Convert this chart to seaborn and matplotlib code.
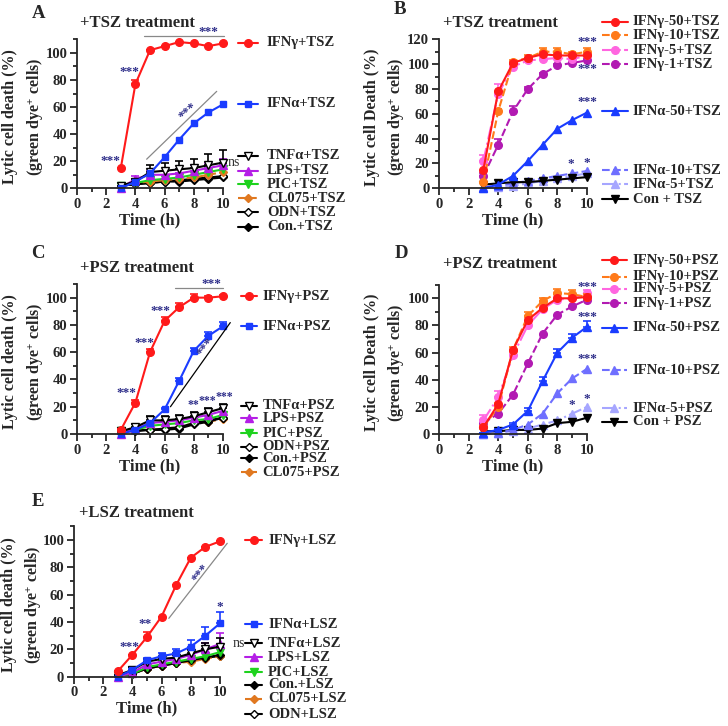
import numpy as np
import matplotlib
matplotlib.use('Agg')
import matplotlib.pyplot as plt
import matplotlib.transforms as mtransforms
from matplotlib.ticker import MultipleLocator
import seaborn as sns

# --- dados ---
hours = [3, 4, 5, 6, 7, 8, 9, 10]

# A: +TSZ
a_ifng = [15, 77, 102, 105, 108, 107, 105, 107]
a_ifna = [0, 5, 11, 23, 36, 48, 56, 62]
a_tnfa = [2, 5, 12, 13, 14, 15, 17, 19]
a_lps = [0, 7, 10, 10, 11, 13, 15, 17]
a_pic = [2, 4, 6, 7, 8, 10, 12, 14]
a_cl075 = [2, 4, 5, 6, 7, 8, 10, 12]
a_odn = [2, 3, 4, 5, 6, 7, 8, 9]
a_con = [2, 3, 4, 5, 5, 6, 7, 8]
a_ifng_err = [0, 3, 0, 0, 0, 0, 0, 0]
a_tnfa_err = [0, 2, 5, 6, 6, 7, 8, 9]
a_lps_err = [0, 2, 3, 3, 3, 4, 4, 5]

# B: +TSZ, doses
b_g50 = [15, 78, 101, 105, 108, 107, 107, 107]
b_g10 = [5, 62, 102, 105, 110, 110, 108, 110]
b_g5 = [22, 76, 98, 103, 104, 105, 104, 107]
b_g1 = [10, 35, 62, 80, 92, 99, 101, 103]
b_a50 = [0, 3, 10, 22, 35, 48, 55, 61]
b_a10 = [1, 2, 4, 6, 8, 10, 12, 14]
b_a5 = [0, 1, 2, 4, 6, 8, 10, 12]
b_con = [3, 4, 5, 5, 6, 7, 8, 9]
b_g10_err = [0, 2, 1, 2, 3, 3, 2, 3]
b_g5_err = [5, 8, 2, 2, 2, 2, 2, 2]
b_g1_err = [2, 5, 4, 2, 1, 1, 1, 1]

# C: +PSZ
c_ifng = [3, 23, 60, 83, 93, 100, 100, 101]
c_ifna = [0, 3, 8, 18, 39, 61, 72, 79]
c_tnfa = [2, 5, 10, 10, 11, 13, 16, 19]
c_lps = [0, 4, 8, 9, 10, 12, 14, 17]
c_pic = [2, 3, 6, 7, 8, 10, 11, 14]
c_odn = [2, 3, 3, 4, 5, 8, 10, 12]
c_con = [2, 2, 3, 3, 4, 7, 9, 12]
c_cl075 = [2, 3, 3, 4, 5, 8, 9, 11]
c_ifng_err = [1, 2, 2, 3, 3, 3, 1, 1]
c_ifna_err = [0, 1, 1, 1, 2, 2, 3, 3]
c_tnfa_err = [0, 2, 3, 3, 3, 3, 3, 3]

# D: +PSZ, doses
d_g50 = [5, 22, 62, 84, 93, 100, 100, 101]
d_g10 = [5, 20, 62, 87, 98, 104, 103, 101]
d_g5 = [10, 27, 58, 80, 92, 99, 100, 104]
d_g1 = [8, 15, 29, 52, 74, 88, 94, 99]
d_a50 = [1, 3, 7, 17, 39, 60, 71, 79]
d_a10 = [0, 1, 3, 7, 15, 30, 41, 48]
d_a5 = [0, 1, 2, 4, 7, 10, 15, 20]
d_con = [2, 2, 3, 3, 4, 8, 9, 12]
d_g10_err = [1, 3, 2, 3, 2, 3, 3, 2]
d_g5_err = [4, 5, 2, 2, 2, 2, 2, 2]
d_a50_err = [0, 1, 1, 2, 3, 3, 3, 4]

# E: +LSZ
e_ifng = [4, 16, 29, 44, 67, 87, 95, 99]
e_ifna = [0, 5, 12, 15, 17, 22, 30, 39]
e_tnfa = [1, 5, 11, 13, 14, 17, 20, 22]
e_lps = [0, 3, 9, 11, 13, 16, 20, 24]
e_pic = [1, 2, 7, 9, 11, 13, 15, 18]
e_con = [1, 2, 6, 8, 10, 12, 14, 16]
e_cl075 = [1, 2, 6, 8, 10, 11, 13, 15]
e_odn = [1, 2, 6, 8, 10, 12, 14, 15]
e_ifng_err = [0, 0, 4, 0, 0, 0, 0, 0]
e_ifna_err = [0, 1, 2, 2, 3, 5, 6, 8]
e_tnfa_err = [0, 2, 2, 2, 3, 3, 5, 6]
e_lps_err = [0, 1, 2, 2, 3, 4, 5, 8]

# --- estilos ---
STYLES = {
    'ifng': dict(c='#ff1a1a', m='o', ls='-', ms=5.5),
    'ifna': dict(c='#1a3cff', m='s', ls='-', ms=4.5),
    'tnfa': dict(c='black', m='v', ls='-', ms=6, mfc='white'),
    'lps': dict(c='#b41ee6', m='^', ls='-', ms=6),
    'pic': dict(c='#1ed21e', m='v', ls='-', ms=6),
    'cl075': dict(c='#e07820', m='D', ls='--', ms=4),
    'odn': dict(c='black', m='D', ls='-', ms=4, mfc='white'),
    'con': dict(c='black', m='D', ls='-', ms=4.5),
    'g50': dict(c='#ff1a1a', m='o', ls='-', ms=5.5),
    'g10': dict(c='#ff7a1a', m='o', ls='--', ms=5.5),
    'g5': dict(c='#ff66e0', m='o', ls='-.', ms=5.5),
    'g1': dict(c='#b21ab2', m='o', ls='--', ms=5.5),
    'a50': dict(c='#1a3cff', m='^', ls='-', ms=6),
    'a10': dict(c='#6f6fff', m='^', ls='--', ms=6),
    'a5': dict(c='#a6a6ff', m='^', ls='-.', ms=6),
    'conv': dict(c='black', m='v', ls='-', ms=6),
}
STAR = '#2e2e8a'

sns.set_style("ticks")
plt.rcParams['font.family'] = ['Liberation Serif', 'DejaVu Serif']
plt.rcParams['font.weight'] = 'bold'
plt.rcParams['axes.labelweight'] = 'bold'
plt.rcParams['mathtext.fontset'] = 'custom'
plt.rcParams['mathtext.rm'] = 'Liberation Serif:bold'
plt.rcParams['mathtext.bf'] = 'Liberation Serif:bold'
plt.rcParams['mathtext.it'] = 'Liberation Serif:bold'


def draw_series(ax, series):
    for key, vals, errs in series:
        st = STYLES[key]
        if errs is not None:
            ax.errorbar(hours, vals, yerr=[np.zeros(len(errs)), errs], fmt='none',
                        ecolor=st['c'], elinewidth=1.2, capsize=3, capthick=1.2, clip_on=False)
        sns.lineplot(x=hours, y=vals, ax=ax, color=st['c'], marker=st['m'],
                     linestyle=st['ls'], markersize=st['ms'],
                     markerfacecolor=st.get('mfc', st['c']), markeredgecolor=st['c'],
                     markeredgewidth=1, linewidth=1.5, errorbar=None,
                     clip_on=False, legend=False)


def style_axes(ax, ymax, ylabel, label_x):
    ax.set_xlim(0, 10)
    ax.set_ylim(0, ymax)
    ax.xaxis.set_major_locator(MultipleLocator(2))
    ax.xaxis.set_minor_locator(MultipleLocator(1))
    ax.yaxis.set_major_locator(MultipleLocator(20))
    ax.yaxis.set_minor_locator(MultipleLocator(10))
    ax.tick_params(which='major', length=5, width=1.3, labelsize=10.5, pad=2)
    ax.tick_params(which='minor', length=3, width=1.3)
    for lab in ax.get_xticklabels() + ax.get_yticklabels():
        lab.set_fontweight('bold')
    for s in ['left', 'bottom']:
        ax.spines[s].set_linewidth(1.3)
    sns.despine(ax=ax)
    ax.set_xlabel('Time (h)', fontsize=12, labelpad=1)
    ax.set_ylabel(ylabel + '\n(green dye$^{+}$ cells)', fontsize=11.5, linespacing=1.45)
    ax.yaxis.set_label_coords(label_x, 0.48)


def side_legend(ax, items, xs):
    x0, x1, xt = xs
    trans = mtransforms.blended_transform_factory(ax.transAxes, ax.transData)
    for key, label, y in items:
        st = STYLES[key]
        ax.plot([x0, (x0 + x1) / 2, x1], [y, y, y], transform=trans, color=st['c'],
                linestyle=st['ls'], marker=st['m'], markevery=[1], markersize=st['ms'],
                markerfacecolor=st.get('mfc', st['c']), markeredgecolor=st['c'],
                linewidth=1.5, clip_on=False)
        ax.text(xt, y, label, transform=trans, va='center', ha='left', fontsize=10.5,
                fontweight='bold', clip_on=False)


def annotate(ax, notes, lines, star_size=9.5):
    for x0, y0, x1, y1, c in lines:
        ax.plot([x0, x1], [y0, y1], color=c, linewidth=0.9, clip_on=False)
    for x, y, s, rot in notes:
        if s == 'ns':
            ax.text(x, y, s, color='#333333', fontsize=10, fontweight='normal',
                    ha='center', va='center', clip_on=False)
        else:
            ax.text(x, y, s, color=STAR, fontsize=star_size, ha='center', va='center',
                    rotation=rot, clip_on=False)


fig = plt.figure(figsize=(7.28, 7.26), dpi=100)

# --- Painel A ---
ax = fig.add_axes([0.1058, 0.7406, 0.2005, 0.2052])
draw_series(ax, [('con', a_con, None), ('odn', a_odn, None), ('cl075', a_cl075, None),
                 ('pic', a_pic, None), ('lps', a_lps, a_lps_err), ('tnfa', a_tnfa, a_tnfa_err),
                 ('ifna', a_ifna, None), ('ifng', a_ifng, a_ifng_err)])
style_axes(ax, 110, 'Lytic cell death (%)', -0.215)
side_legend(ax, [('ifng', 'IFNγ+TSZ', 107.6), ('ifna', 'IFNα+TSZ', 62.4),
                 ('tnfa', 'TNFα+TSZ', 23.9), ('lps', 'LPS+TSZ', 13.0), ('pic', 'PIC+TSZ', 3.0),
                 ('cl075', 'CL075+TSZ', -7.4), ('odn', 'ODN+TSZ', -17.8), ('con', 'Con.+TSZ', -28.4)],
            (1.10, 1.24, 1.30))
annotate(ax, [(2.3, 20, '***', 0), (3.6, 86, '***', 0), (9.0, 115.5, '***', 0),
              (7.6, 56.5, '***', 42), (10.75, 18.7, 'ns', 0)],
         [(4.6, 112.8, 10.1, 112.8, '#888888'), (4.77, 21.5, 9.57, 71.6, '#888888')])

# --- Painel B ---
ax = fig.add_axes([0.6030, 0.7406, 0.2033, 0.2052])
draw_series(ax, [('a5', b_a5, None), ('a10', b_a10, None), ('conv', b_con, None),
                 ('a50', b_a50, None), ('g1', b_g1, b_g1_err), ('g5', b_g5, b_g5_err),
                 ('g10', b_g10, b_g10_err), ('g50', b_g50, None)])
style_axes(ax, 120, 'Lytic cell Death (%)', -0.215)
side_legend(ax, [('g50', 'IFNγ-50+TSZ', 134), ('g10', 'IFNγ-10+TSZ', 123.4),
                 ('g5', 'IFNγ-5+TSZ', 111.4), ('g1', 'IFNγ-1+TSZ', 100),
                 ('a50', 'IFNα-50+TSZ', 62.2), ('a10', 'IFNα-10+TSZ', 14.7),
                 ('a5', 'IFNα-5+TSZ', 3.2), ('conv', 'Con + TSZ', -8.6)],
            (1.10, 1.28, 1.31))
annotate(ax, [(10, 118, '***', 0), (10, 95.8, '***', 0), (10, 69.7, '***', 0),
              (8.9, 19.6, '*', 0), (10, 20, '*', 0)], [])

# --- Painel C ---
ax = fig.add_axes([0.1058, 0.4022, 0.2005, 0.2066])
draw_series(ax, [('cl075', c_cl075, None), ('con', c_con, None), ('odn', c_odn, None),
                 ('pic', c_pic, None), ('lps', c_lps, None), ('tnfa', c_tnfa, c_tnfa_err),
                 ('ifna', c_ifna, c_ifna_err), ('ifng', c_ifng, c_ifng_err)])
style_axes(ax, 110, 'Lytic cell death (%)', -0.215)
side_legend(ax, [('ifng', 'IFNγ+PSZ', 101), ('ifna', 'IFNα+PSZ', 79),
                 ('tnfa', 'TNFα+PSZ', 20.8), ('lps', 'LPS+PSZ', 11.5), ('pic', 'PIC+PSZ', 0.5),
                 ('odn', 'ODN+PSZ', -9.3), ('con', 'Con.+PSZ', -17.8), ('cl075', 'CL075+PSZ', -27.9)],
            (1.12, 1.23, 1.27))
annotate(ax, [(3.4, 30, '***', 0), (4.6, 67, '***', 0), (5.7, 90, '***', 0),
              (9.2, 110, '***', 0), (8.8, 64, '***', 52)],
         [(6.7, 107, 10.0, 107, '#888888'), (6.4, 20, 10.5, 81.7, 'black')])
annotate(ax, [(7.95, 21, '**', 0), (8.95, 24.5, '***', 0), (10.1, 27, '***', 0)], [],
         star_size=8.5)

# --- Painel D ---
ax = fig.add_axes([0.6030, 0.4022, 0.2033, 0.2056])
draw_series(ax, [('a5', d_a5, None), ('conv', d_con, None), ('a10', d_a10, None),
                 ('a50', d_a50, d_a50_err), ('g1', d_g1, None), ('g5', d_g5, d_g5_err),
                 ('g10', d_g10, d_g10_err), ('g50', d_g50, None)])
style_axes(ax, 110, 'Lytic cell Death (%)', -0.215)
side_legend(ax, [('g50', 'IFNγ-50+PSZ', 128), ('g10', 'IFNγ-10+PSZ', 116),
                 ('g5', 'IFNγ-5+PSZ', 107), ('g1', 'IFNγ-1+PSZ', 96.3),
                 ('a50', 'IFNα-50+PSZ', 78.3), ('a10', 'IFNα-10+PSZ', 47),
                 ('a5', 'IFNα-5+PSZ', 19), ('conv', 'Con + PSZ', 9)],
            (1.10, 1.27, 1.31))
annotate(ax, [(10, 108.6, '***', 0), (10, 86, '***', 0), (10, 55, '***', 0),
              (9.0, 21.4, '*', 0), (10, 26, '*', 0)], [])

# --- Painel E ---
ax = fig.add_axes([0.1016, 0.0679, 0.2005, 0.2071])
draw_series(ax, [('odn', e_odn, None), ('cl075', e_cl075, None), ('con', e_con, None),
                 ('pic', e_pic, None), ('lps', e_lps, e_lps_err), ('tnfa', e_tnfa, e_tnfa_err),
                 ('ifna', e_ifna, e_ifna_err), ('ifng', e_ifng, e_ifng_err)])
style_axes(ax, 110, 'Lytic cell death (%)', -0.205)
side_legend(ax, [('ifng', 'IFNγ+LSZ', 100), ('ifna', 'IFNα+LSZ', 38.5),
                 ('tnfa', 'TNFα+LSZ', 24.6), ('lps', 'LPS+LSZ', 14.4), ('pic', 'PIC+LSZ', 3.4),
                 ('con', 'Con.+LSZ', -6), ('cl075', 'CL075+LSZ', -16.3), ('odn', 'ODN+LSZ', -27.3)],
            (1.17, 1.29, 1.33))
annotate(ax, [(3.8, 22, '***', 0), (4.9, 38.5, '**', 0), (8.7, 75.6, '***', 52),
              (10, 51, '*', 0), (11.3, 24, 'ns', 0)],
         [(6.5, 42.7, 10.5, 97.6, '#888888')])

# --- letras e títulos ---
for letter, x, y in [('A', 39, 14), ('B', 400, 10), ('C', 38, 254), ('D', 401, 253), ('E', 38, 502)]:
    fig.text(x / 728, 1 - y / 726, letter, fontsize=13.5, fontweight='bold', ha='center', va='center')
for title, x, y in [('+TSZ treatment', 80, 23), ('+TSZ treatment', 443, 23),
                    ('+PSZ treatment', 80, 268), ('+PSZ treatment', 443, 264),
                    ('+LSZ treatment', 79, 513)]:
    fig.text(x / 728, 1 - y / 726, title, fontsize=12, fontweight='bold', ha='left', va='center')

fig.savefig('out.png', dpi=100)
